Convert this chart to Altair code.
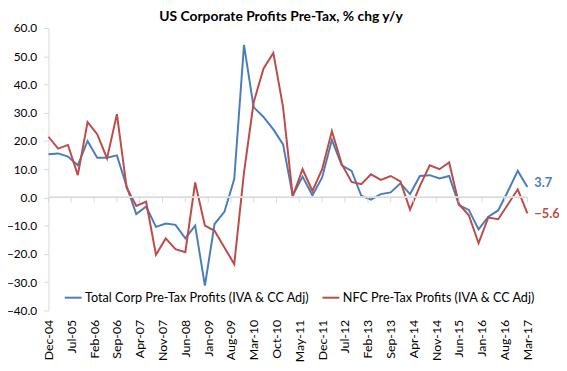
import altair as alt
import pandas as pd

# ---- data (quarterly, Dec-04 .. Mar-17) ----
total_corp = [15.3, 15.6, 14.5, 11.4, 20.0, 14.1, 14.1, 14.9, 3.9, -5.9,
              -3.2, -10.4, -9.2, -9.7, -14.5, -10.0, -31.2, -9.4, -5.1, 6.5,
              54.0, 32.0, 28.5, 24.1, 18.8, 0.7, 7.4, 0.7, 7.1, 20.4,
              11.4, 9.4, 0.6, -0.8, 1.2, 1.8, 5.0, 1.2, 7.6, 7.9,
              6.7, 7.6, -2.7, -4.4, -11.3, -6.8, -4.6, 2.3, 9.4, 3.7]
nfc = [21.5, 17.3, 18.6, 7.9, 26.7, 22.4, 13.8, 29.5, 3.5, -3.0,
       -1.5, -20.3, -14.5, -18.3, -19.4, 5.3, -10.0, -11.8, -17.7, -23.6,
       8.8, 33.6, 45.6, 51.2, 32.0, 0.4, 10.0, 2.3, 10.0, 23.5,
       11.8, 5.5, 4.7, 8.2, 6.2, 7.6, 5.7, -4.3, 4.1, 11.4,
       10.0, 12.4, -2.4, -6.3, -16.2, -7.1, -7.7, -2.4, 2.9, -5.6]
quarters = pd.date_range("2004-12-01", periods=len(total_corp), freq="3MS")
tick_labels = ["Dec-04", "Jul-05", "Feb-06", "Sep-06", "Apr-07", "Nov-07",
               "Jun-08", "Jan-09", "Aug-09", "Mar-10", "Oct-10", "May-11",
               "Dec-11", "Jul-12", "Feb-13", "Sep-13", "Apr-14", "Nov-14",
               "Jun-15", "Jan-16", "Aug-16", "Mar-17"]
y_ticks = [-40, -30, -20, -10, 0, 10, 20, 30, 40, 50, 60]
series_names = ["Total Corp Pre-Tax Profits (IVA & CC Adj)",
                "NFC Pre-Tax Profits (IVA & CC Adj)"]
series_colors = ["#4A7EBB", "#BE4B48"]
title_text = "US Corporate Profits Pre-Tax, % chg y/y"

FONT = "Lato"

rows = []
for d, a, b in zip(quarters, total_corp, nfc):
    rows.append({"date": d, "series": series_names[0], "value": a})
    rows.append({"date": d, "series": series_names[1], "value": b})
df = pd.DataFrame(rows)

last = pd.DataFrame([
    {"date": quarters[-1], "series": series_names[0], "value": total_corp[-1]},
    {"date": quarters[-1], "series": series_names[1], "value": nfc[-1]},
])

tick_dates = [pd.to_datetime(t, format="%b-%y") for t in tick_labels]
tick_dt = [alt.DateTime(year=t.year, month=t.month, date=1) for t in tick_dates]
ticks_df = pd.DataFrame({"date": tick_dates})

x_scale = alt.Scale(domain=[alt.DateTime(year=2004, month=12, date=1),
                            alt.DateTime(year=2017, month=3, date=1)])
y_scale = alt.Scale(domain=[-40, 60], nice=False)
color_scale = alt.Scale(domain=series_names, range=series_colors)

x_axis = alt.Axis(values=tick_dt, format="%b-%y", labelAngle=-90,
                  domain=False, ticks=False, grid=False, labelPadding=9,
                  labelOverlap=False, labelFont=FONT, labelFontSize=12.5,
                  labelColor="#000000", title=None)
y_axis = alt.Axis(values=y_ticks, format=".1f", grid=False,
                  domainColor="#D9D9D9", tickColor="#D9D9D9", tickSize=5,
                  labelOverlap=False, labelPadding=7, labelFont=FONT,
                  labelFontSize=12, labelColor="#000000", title=None)

X = alt.X("date:T", scale=x_scale, axis=x_axis)
Y = alt.Y("value:Q", scale=y_scale, axis=y_axis)

zero = alt.Chart(df).mark_rule(color="#D9D9D9", strokeWidth=1).encode(
    y=alt.datum(0, type="quantitative", scale=y_scale, axis=y_axis))

xticks = alt.Chart(ticks_df).mark_rule(color="#D9D9D9", strokeWidth=1).encode(
    x=X,
    y=alt.datum(0, type="quantitative", scale=y_scale, axis=y_axis),
    y2=alt.datum(-1.8))

lines = alt.Chart(df).mark_line(strokeWidth=2).encode(
    x=X,
    y=Y,
    color=alt.Color("series:N", scale=color_scale,
                    legend=alt.Legend(orient="none", direction="horizontal",
                                      legendX=15, legendY=263, title=None,
                                      symbolType="stroke", symbolSize=290,
                                      symbolStrokeWidth=2, labelFont=FONT,
                                      labelFontSize=12.8, labelLimit=400,
                                      labelColor="#000000", columnPadding=8,
                                      labelOffset=2, padding=0)),
    detail="series:N")


def end_label(name, dy):
    return alt.Chart(last).transform_filter(
        alt.datum.series == name).mark_text(
        align="left", baseline="middle", dx=7, dy=dy, font=FONT, fontSize=13,
        fontWeight="bold").encode(
        x=X,
        y=Y,
        text=alt.Text("value:Q", format=".1f"),
        color=alt.Color("series:N", scale=color_scale, legend=None))


end_blue = end_label(series_names[0], -4)
end_red = end_label(series_names[1], 1)

chart = alt.layer(lines, zero, xticks, end_blue, end_red).properties(
    width=485, height=286,
    title=alt.TitleParams(title_text, font=FONT, fontSize=14,
                          fontWeight="bold", color="#000000",
                          anchor="middle", offset=6, dx=-7, dy=8),
    autosize=alt.AutoSizeParams(type="none"),
    padding={"left": 41, "top": 18, "right": 32, "bottom": 54},
).configure_view(stroke=None).configure_axis(labelOverlap=False)

chart.save("out.html", embed_options={"renderer": "svg", "actions": False})
